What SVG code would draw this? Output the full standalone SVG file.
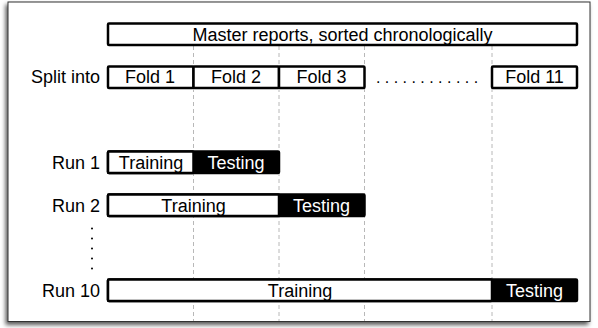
<svg xmlns="http://www.w3.org/2000/svg" width="598" height="328" viewBox="0 0 598 328">
<style>
text{font-family:"Liberation Sans",Arial,sans-serif;font-size:18px;fill:#000}
.c{text-anchor:middle}
.r{text-anchor:end}
.w{fill:#fff}
.box{fill:#fff;stroke:#000;stroke-width:2.5}
.blk{fill:#000;stroke:#000;stroke-width:2.5}
.dash{stroke:#b8b8b8;stroke-width:1;stroke-dasharray:4 3;fill:none}
</style>
<defs>
<filter id="sh" x="-5%" y="-5%" width="110%" height="115%">
<feDropShadow dx="-2" dy="3" stdDeviation="2" flood-color="#000" flood-opacity="0.65"/>
</filter>
</defs>
<rect x="8" y="2" width="582" height="319.5" fill="#fff" stroke="#333" stroke-width="1" filter="url(#sh)"/>
<g id="connectors">
<line class="dash" x1="193.5" y1="46" x2="193.5" y2="321"/>
<line class="dash" x1="279" y1="46" x2="279" y2="321"/>
<line class="dash" x1="364.5" y1="46" x2="364.5" y2="321"/>
<line class="dash" x1="492" y1="46" x2="492" y2="321"/>
</g>
<g id="master">
<rect class="box" x="108" y="23.5" width="469" height="21.5" rx="1"/>
<text class="c" x="342.5" y="40.5">Master reports, sorted chronologically</text>
</g>
<g id="split">
<text class="r" x="100" y="83">Split into</text>
</g>
<g id="fold1">
<rect class="box" x="108" y="66.5" width="85.5" height="21.5" rx="1"/>
<text class="c" x="150" y="83">Fold 1</text>
</g>
<g id="fold2">
<rect class="box" x="193.5" y="66.5" width="85.5" height="21.5" rx="1"/>
<text class="c" x="236" y="83">Fold 2</text>
</g>
<g id="fold3">
<rect class="box" x="279" y="66.5" width="85.5" height="21.5" rx="1"/>
<text class="c" x="321.5" y="83">Fold 3</text>
</g>
<g id="folddots">
<text class="c" x="427" y="83" style="font-size:16px">. . . . . . . . . . . .</text>
</g>
<g id="fold11">
<rect class="box" x="492" y="66.5" width="85" height="21.5" rx="1"/>
<text class="c" x="534.5" y="83">Fold 11</text>
</g>
<g id="run1">
<text class="r" x="100" y="168.5">Run 1</text>
<rect class="blk" x="108" y="151.5" width="171" height="21.5" rx="1"/>
<rect class="box" x="108" y="151.5" width="85.5" height="21.5" rx="1"/>
<text class="c" x="151" y="168.5">Training</text>
<text class="c w" x="236" y="168.5">Testing</text>
</g>
<g id="run2">
<text class="r" x="100" y="211.5">Run 2</text>
<rect class="blk" x="108" y="194.5" width="256.5" height="21.5" rx="1"/>
<rect class="box" x="108" y="194.5" width="171" height="21.5" rx="1"/>
<text class="c" x="193.5" y="211.5">Training</text>
<text class="c w" x="321.5" y="211.5">Testing</text>
</g>
<g id="vdots" fill="#000">
<circle cx="92" cy="228.5" r="1"/>
<circle cx="92" cy="238.5" r="1"/>
<circle cx="92" cy="248.5" r="1"/>
<circle cx="92" cy="258.5" r="1"/>
<circle cx="92" cy="268.5" r="1"/>
</g>
<g id="run10">
<text class="r" x="100" y="296.5">Run 10</text>
<rect class="blk" x="108" y="279.5" width="469" height="21.5" rx="1"/>
<rect class="box" x="108" y="279.5" width="384" height="21.5" rx="1"/>
<text class="c" x="300" y="296.5">Training</text>
<text class="c w" x="534.5" y="296.5">Testing</text>
</g>
</svg>
